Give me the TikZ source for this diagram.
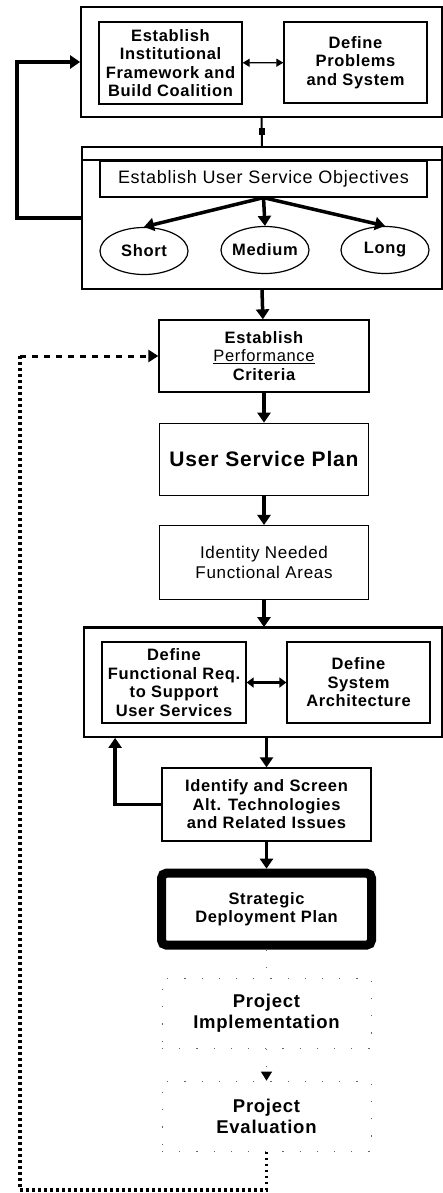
\documentclass[tikz,border=0pt]{standalone}
\usepackage{fontspec}
\setmainfont{Liberation Sans}[LetterSpace=4]
\usepackage{tikz}
\usetikzlibrary{shapes}
\usetikzlibrary{arrows.meta}
\usetikzlibrary{positioning, calc}

\begin{document}
\begin{tikzpicture}[x=1pt, y=-1pt,
  box/.style={draw, line width=1.3pt, align=center, inner sep=2pt, font=\fontsize{16.5}{18.5}\selectfont\bfseries},
  frame/.style={draw, line width=1.8pt, inner sep=0pt},
  oval/.style={draw, ellipse, line width=1.2pt, inner xsep=-4pt, inner ysep=0pt, minimum width=88pt, minimum height=47pt, font=\fontsize{16.5}{19}\selectfont\bfseries},
  faint/.style={draw=black!60, line width=1pt, dash pattern=on 1.2pt off 16pt},
  flow/.style={line width=3.5pt, -{Triangle[length=10pt, width=13pt]}},
  loopdots/.style={line width=3.5pt, dash pattern=on 2.5pt off 3.5pt},
  loopdash/.style={line width=3pt, dash pattern=on 6pt off 6pt, -{Triangle[length=10pt, width=12pt]}}]
\useasboundingbox (0,0) rectangle (443,1193);

% institutional framework / problems
\node[frame, minimum width=361pt, minimum height=110pt] (inst_frame) at (261.5,62) {};
\node[box, minimum width=143pt, minimum height=82pt] (inst) at (170.5,63) {Establish\\Institutional\\Framework and\\Build Coalition};
\node[box, minimum width=143pt, minimum height=81pt] (probs) at (355.5,62.5) {Define\\Problems\\and System};
\draw[line width=1.2pt, {Triangle[length=7pt, width=8pt]}-{Triangle[length=7pt, width=8pt]}] (inst) -- (probs);

% user service objectives
\node[frame, minimum width=360pt, minimum height=142pt] (obj_frame) at (262,218) {};
\draw[line width=1.8pt] ($(obj_frame.north west)+(0,14)$) -- ($(obj_frame.north east)+(0,14)$);
\node[box, font=\fontsize{18}{21}\selectfont, minimum width=327pt, minimum height=36pt] (obj) at (263.5,179) {Establish User Service Objectives};
\node[oval] (short) at (144,251) {Short};
\node[oval] (medium) at (265,250) {Medium};
\node[oval] (long) at (385,250) {Long};
\draw[flow] (obj.south) -- (short.north);
\draw[flow] (obj.south) -- (medium.north);
\draw[flow] (obj.south) -- (long.north);
\draw[line width=2pt] (inst_frame.south) -- node[fill, inner sep=0pt, minimum width=6pt, minimum height=7pt] (knot) {} (obj_frame.north);
\draw[flow, line width=4.5pt] (obj_frame.west) -- ++(-64,0) |- (inst_frame.west);

% planning column
\node[box, minimum width=210pt, minimum height=72pt] (perf) at (264,356) {Establish\\{\mdseries\underline{Performance}}\\Criteria};
\node[box, font=\fontsize{21}{24}\selectfont\bfseries, minimum width=209pt, minimum height=72pt] (usp) [below=30pt of perf] {User Service Plan};
\node[box, font=\fontsize{17}{20}\selectfont, minimum width=209pt, minimum height=74pt] (areas) [below=29pt of usp] {Identity Needed\\Functional Areas};
\draw[flow] (obj_frame.south) -- (perf);
\draw[flow] (perf) -- (usp);
\draw[flow] (usp) -- (areas);

% requirements / architecture
\node[frame, minimum width=358pt, minimum height=109pt] (req_frame) at (263,682.5) {};
\draw[line width=3pt] (req_frame.north west) -- (req_frame.north east);
\node[box, minimum width=144pt, minimum height=81pt] (funreq) at (174,682.5) {Define\\Functional Req.\\to Support\\User Services};
\node[box, minimum width=143pt, minimum height=81pt] (arch) at (358.5,682.5) {Define\\System\\Architecture};
\draw[line width=3pt, {Triangle[length=7pt, width=10pt]}-{Triangle[length=7pt, width=10pt]}] (funreq) -- (arch);
\draw[flow] (areas) -- (areas.south |- req_frame.north);

\node[box, minimum width=209pt, minimum height=73pt] (screen) at (266.5,804.5) {Identify and Screen\\Alt. Technologies\\and Related Issues};
\draw[flow] (screen.north |- req_frame.south) -- (screen);
\draw[flow] (screen.west) -| ($(req_frame.south west)+(32,0)$);

% deployment
\node[box, line width=9pt, rounded corners=5pt, minimum width=210pt, minimum height=72pt] (strat) [below=27pt of screen] {Strategic\\Deployment Plan};
\draw[flow] (screen) -- (strat);
\node[box, faint, font=\fontsize{18.5}{21.5}\selectfont\bfseries, minimum width=209pt, minimum height=70pt] (impl) [below=28pt of strat] {Project\\Implementation};
\node[box, faint, font=\fontsize{18.5}{21.5}\selectfont\bfseries, minimum width=209pt, minimum height=70pt] (eval) [below=32pt of impl] {Project\\Evaluation};
\draw[faint] (strat) -- (impl);
\draw[faint, -{Triangle[length=9pt, width=11pt, black]}] (impl) -- (eval);

% evaluation feedback
\coordinate (loop_corner) at (20,1190);
\draw[loopdots] (eval.south) -- (eval.south |- loop_corner) -- (loop_corner) -- (loop_corner |- perf.west);
\draw[loopdash] (loop_corner |- perf.west) -- (perf.west);
\end{tikzpicture}
\end{document}
